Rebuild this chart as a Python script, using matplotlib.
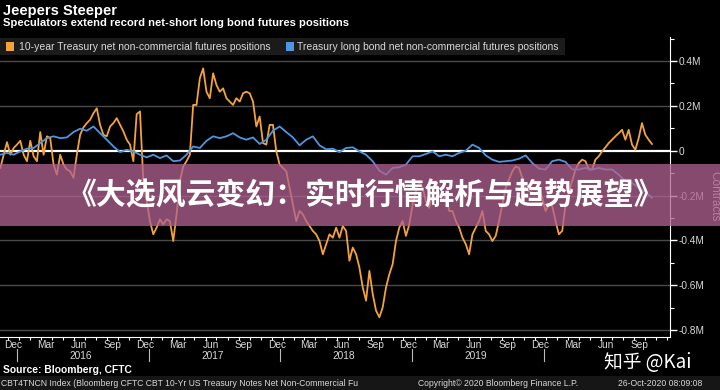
import matplotlib
matplotlib.use("Agg")
import matplotlib.pyplot as plt
import matplotlib.dates as mdates
import pandas as pd
from matplotlib.patches import Rectangle
from matplotlib.ticker import MultipleLocator, FuncFormatter

# net non-commercial positions, thousands of contracts
ten_year = [
    -77, -18, 38, -18, 12, 27, 44, -18, -47, 44, -25, -47, 83, -18, 64, 56,
    -62, -107, -18, -62, -84, -92, -121, -18, 71, 104, 123, 138, 167, 189, 115,
    71, 64, 108, 123, 145, 115, 86, 49, 27, -47, 163, 175, -136, -225, -314,
    -373, -343, -306, -329, -306,
    -314, -403, -284, -136, -70, -47, -18, 204, 204, 323, 367, 263, 234, 345,
    293, 263, 278, 234, 219, 204, 234, 219, 256, 263, 256, 219, 108, 152, 34,
    27, 115, 115, -3, -62, -77, -92, -166, -240, -314, -269, -284, -314, -336,
    -358, -373, -403, -462, -417, -373,
    -388, -343, -388, -336, -358, -491, -432, -462, -521, -610, -669, -536,
    -639, -713, -743, -699, -610, -551, -506, -403, -343, -314, -380, -329,
    -240, -181, -136, -166, -225, -255, -195, -136, -195, -225, -195, -269,
    -269, -314, -343, -388, -417, -462, -373, -343, -314, -269, -358, -373,
    -403,
    -380, -314, -240, -166, -129, -92, -70, -77, -121, -173, -181, -188, -195,
    -173, -210, -269, -240, -247, -314, -373, -358, -240, -181, -136, -84,
    -55, -40, -47, -84, -84, -40, -25, -3, 15, 34, 49, 64, 78, 93, 49, 93, 27,
    4, 56, 123, 71, 49, 30,
]

long_bond = [
    -18, -10, -18, -3, 9, 12, 34, 56, 64, 56, 59, 83, 98, 89, 108, 78, 49, 19,
    -6, 4, -3, -18, -30, -18, -33, -21,
    -47, -44, -18, 19, 12, 44, 64, 56, 64, 78, 59, 49, 59, 30, 49, 89, 108, 83,
    59, 24, 49, 64, 24, 6,
    9, -6, 12, 15, -3, -18, -47, -89, -107, -77, -74, -62, -25, -25, -15, -3,
    -25, -18, -25, -10, 0, 27, 12, -21, -40,
    -50, -47, -44, -36, -21, -55, -80, -84, -47, -40, -50, -84, -84, -77, -84,
    -77, -84, -84, -107, -136, -144, -166, -184, -210,
]

start, end = "2015-11-10", "2020-10-20"
ten_dates = pd.date_range(start, end, periods=len(ten_year))
bond_dates = pd.date_range(start, end, periods=len(long_bond))

year_labels = [2016, 2017, 2018, 2019]

label_ten = "10-year Treasury net non-commercial futures positions"
label_bond = "Treasury long bond net non-commercial futures positions"

ORANGE = "#f4a33a"
BLUE = "#4f95e0"
GRID = "#4a4a4a"
TXT = "#d8d8d8"

plt.rcParams["font.family"] = ["Liberation Sans", "DejaVu Sans"]

fig = plt.figure(figsize=(7.2, 3.9), dpi=100, facecolor="black")
ax = fig.add_axes([0.0, 1 - 337 / 390, 670 / 720, 300 / 390])
ax.set_facecolor("black")

ax.set_ylim(-831, 507)
ax.set_xlim(pd.Timestamp("2015-11-09"), pd.Timestamp("2020-12-09"))

for v in [400, 200, -200, -400, -600, -800]:
    ax.axhline(v, color=GRID, lw=1.0, zorder=1)
ax.axhline(0, color="white", lw=1.6, zorder=2)

ax.plot(ten_dates, ten_year, color=ORANGE, lw=1.3, zorder=3)
ax.plot(bond_dates, long_bond, color=BLUE, lw=1.3, zorder=4)

for s in ["top", "left"]:
    ax.spines[s].set_visible(False)
ax.spines["right"].set_color("white")
ax.spines["bottom"].set_color("white")

ax.yaxis.tick_right()
ax.yaxis.set_major_locator(MultipleLocator(200))
ax.yaxis.set_minor_locator(MultipleLocator(100))
ax.yaxis.set_major_formatter(
    FuncFormatter(lambda v, p: "0" if v == 0 else f"{v / 1000:.1f}M"))
ax.tick_params(axis="y", which="major", colors="white", length=5, width=1,
               labelsize=7.3, labelcolor=TXT, pad=1)
ax.tick_params(axis="y", which="minor", colors="white", length=3, width=0.8)

ax.xaxis.set_major_locator(mdates.MonthLocator(bymonth=[3, 6, 9, 12], bymonthday=15))
ax.xaxis.set_major_formatter(mdates.DateFormatter("%b"))
ax.xaxis.set_minor_locator(mdates.MonthLocator())
ax.tick_params(axis="x", which="major", length=0, labelsize=7.3, labelcolor=TXT, pad=2)
ax.tick_params(axis="x", which="minor", colors="white", length=2.5, width=0.8)

xt = ax.get_xaxis_transform()
for yr in year_labels:
    ax.text(pd.Timestamp(f"{yr}-06-20"), -0.062, str(yr), transform=xt,
            ha="center", va="center", fontsize=7.3, color=TXT, clip_on=False)
for yr in range(2015, 2020):
    ax.plot([pd.Timestamp(f"{yr}-12-25")] * 2, [-0.04, -0.08], transform=xt,
            color="#bbbbbb", lw=0.8, clip_on=False)

ax.text(1.066, 0.47, "Contracts", transform=ax.transAxes, rotation=270,
        ha="center", va="center", fontsize=8.5, color="#d0d0d0")


def fy(py):
    return 1 - py / 390


# title block
fig.text(3 / 720, fy(10.5), "Jeepers Steeper", fontsize=10.5, weight="bold",
         color="white", va="center")
fig.text(3 / 720, fy(22.5),
         "Speculators extend record net-short long bond futures positions",
         fontsize=8.1, weight="bold", color="white", va="center")

# legend band
fig.patches.append(Rectangle((0, fy(55)), 565 / 720, 17 / 390,
                             transform=fig.transFigure, facecolor="#1b1b1b",
                             edgecolor="none", zorder=5))
fig.patches.append(Rectangle((6 / 720, fy(50.5)), 8 / 720, 8 / 390,
                             transform=fig.transFigure, facecolor=ORANGE,
                             edgecolor="none", zorder=6))
fig.text(19 / 720, fy(46.5), label_ten, fontsize=7.5, color=TXT, va="center", zorder=6)
fig.patches.append(Rectangle((286 / 720, fy(50.5)), 8 / 720, 8 / 390,
                             transform=fig.transFigure, facecolor=BLUE,
                             edgecolor="none", zorder=6))
fig.text(297 / 720, fy(46.5), label_bond, fontsize=7.5, color=TXT, va="center", zorder=6)

# footer
fig.patches.append(Rectangle((0, 0), 1, 14 / 390, transform=fig.transFigure,
                             facecolor="#161616", edgecolor="none", zorder=0))
fig.text(3 / 720, fy(370), "Source: Bloomberg, CFTC", fontsize=7.4,
         weight="bold", color="white", va="center")
fig.text(1 / 720, fy(383),
         "CBT4TNCN Index (Bloomberg CFTC CBT 10-Yr US Treasury Notes Net Non-Commercial Fu",
         fontsize=6.2, color=TXT, va="center")
fig.text(418 / 720, fy(383), "Copyright\u00a9 2020 Bloomberg Finance L.P.",
         fontsize=6.2, color=TXT, va="center")
fig.text(618 / 720, fy(383), "26-Oct-2020 08:09:08", fontsize=6.2, color=TXT,
         va="center")

# overlay banner and watermark
fig.patches.append(Rectangle((0, fy(226)), 1, 62 / 390, transform=fig.transFigure,
                             facecolor="#b06290", alpha=0.76, edgecolor="none",
                             zorder=10))
fig.text(0.507, fy(195), "《大选风云变幻：实时行情解析与趋势展望》",
         fontsize=21.5, weight="bold", color="white", ha="center", va="center",
         family=["Noto Sans CJK SC", "DejaVu Sans"], zorder=11)
fig.text(648 / 720, fy(363), "知乎 @Kai", fontsize=13.5, color="white",
         ha="center", va="center", family=["Noto Sans CJK SC", "DejaVu Sans"],
         zorder=11)

fig.savefig("out.png", dpi=100, facecolor="black")
